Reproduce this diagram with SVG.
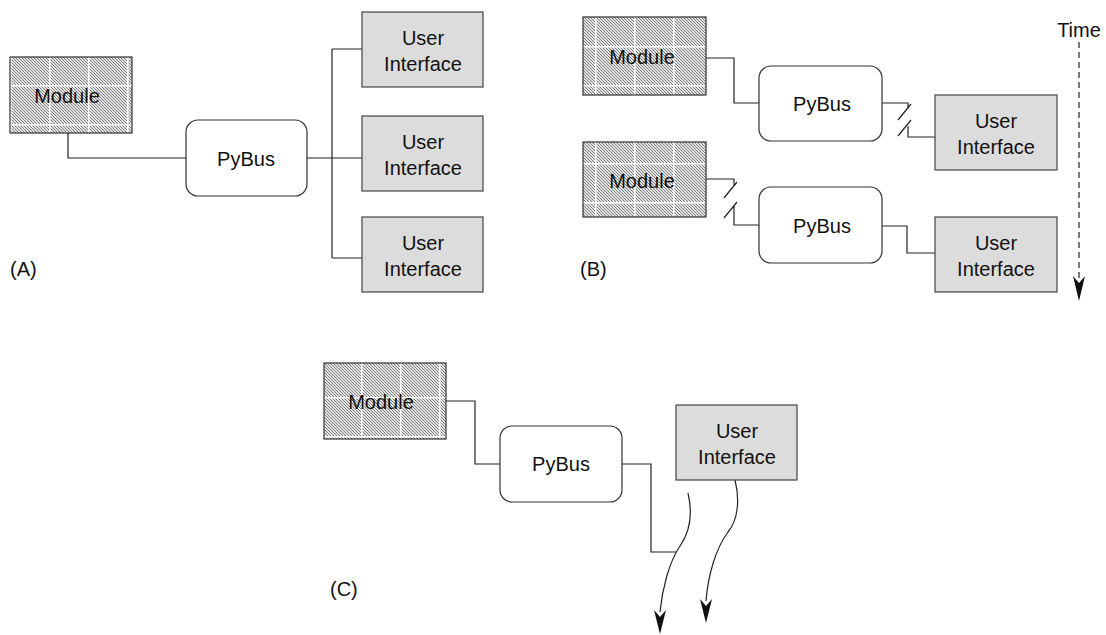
<svg xmlns="http://www.w3.org/2000/svg" width="1106" height="635" viewBox="0 0 1106 635">
<style>
text{font-family:"Liberation Sans",Arial,sans-serif;font-size:20px;fill:#111;text-anchor:middle}
.lbl{text-anchor:start}
.mod{fill:url(#grid);stroke:#333;stroke-width:1.2}
.bus{fill:#fff;stroke:#333;stroke-width:1.2}
.ui{fill:#dcdcdc;stroke:#444;stroke-width:1.2}
.c{fill:none;stroke:#222;stroke-width:1.2}
</style>
<defs>
<pattern id="hatch" patternUnits="userSpaceOnUse" width="3" height="3">
<rect width="3" height="3" fill="#e4e4e4"/>
<path d="M-1,-1 L4,4 M-1,2 L1,4 M2,-1 L4,1" stroke="#707070" stroke-width="0.9"/>
</pattern>
<pattern id="grid" patternUnits="userSpaceOnUse" width="39" height="39" x="10" y="7">
<rect width="39" height="39" fill="url(#hatch)"/>
<path d="M0.75,0 V39 M0,0.75 H39" stroke="#fff" stroke-width="1.5"/>
</pattern>
</defs>

<g id="connectors">
<!-- A -->
<path class="c" d="M68,133 V158 H186"/>
<path class="c" d="M307,158 H362 M332,49 V258 M332,49 H362 M332,258 H362"/>
<!-- B top -->
<path class="c" d="M706,58 H734 V103 H760"/>
<path class="c" d="M882,103 H908 V109 M898,120 L911,104 M898,136 L911,120 M908,126 V137 H936"/>
<!-- B bottom -->
<path class="c" d="M706,179 H734 V186 M724,198 L737,182 M724,218 L737,202 M734,206 V225 H760"/>
<path class="c" d="M882,226 H907 V253 H936"/>
<!-- Time -->
<path class="c" d="M1079,42 V278" stroke-dasharray="6,4"/>
<path d="M1073,276 L1079,283 L1085,276 L1079,301 Z" fill="#111"/>
<!-- C -->
<path class="c" d="M446,401 H475 V464 H500"/>
<path class="c" d="M622,464 H651 V552 H676"/>
<path class="c" d="M688,493 C693,515 690,532 680,546 C669,562 662,590 660,612"/>
<path d="M654,610 L660,617 L666,610 L660,634 Z" fill="#111"/>
<path class="c" d="M735,480 C740,500 738,520 728,532 C716,548 708,575 706,601"/>
<path d="M700,599 L706,606 L712,599 L706,623 Z" fill="#111"/>
</g>

<g id="moduleA"><rect class="mod" x="10" y="57" width="122" height="76"/><text x="67" y="103">Module</text></g>
<g id="pybusA"><rect class="bus" x="186" y="120" width="121" height="76" rx="12"/><text x="246" y="166">PyBus</text></g>
<g id="uiA1"><rect class="ui" x="362" y="12" width="121" height="75"/><text x="423" y="45">User</text><text x="423" y="71">Interface</text></g>
<g id="uiA2"><rect class="ui" x="362" y="116" width="121" height="75"/><text x="423" y="149">User</text><text x="423" y="175">Interface</text></g>
<g id="uiA3"><rect class="ui" x="362" y="217" width="121" height="75"/><text x="423" y="250">User</text><text x="423" y="276">Interface</text></g>
<text class="lbl" x="10" y="276">(A)</text>

<g id="moduleB1"><rect class="mod" x="583" y="17" width="123" height="78"/><text x="642" y="64">Module</text></g>
<g id="pybusB1"><rect class="bus" x="759" y="66" width="123" height="75" rx="12"/><text x="822" y="111">PyBus</text></g>
<g id="uiB1"><rect class="ui" x="935" y="95" width="122" height="75"/><text x="996" y="128">User</text><text x="996" y="154">Interface</text></g>
<g id="moduleB2"><rect class="mod" x="583" y="142" width="123" height="75"/><text x="642" y="188">Module</text></g>
<g id="pybusB2"><rect class="bus" x="759" y="187" width="123" height="76" rx="12"/><text x="822" y="233">PyBus</text></g>
<g id="uiB2"><rect class="ui" x="935" y="217" width="122" height="75"/><text x="996" y="250">User</text><text x="996" y="276">Interface</text></g>
<text class="lbl" x="580" y="276">(B)</text>
<text x="1079" y="37">Time</text>

<g id="moduleC"><rect class="mod" x="324" y="363" width="122" height="76"/><text x="381" y="409">Module</text></g>
<g id="pybusC"><rect class="bus" x="500" y="426" width="122" height="76" rx="12"/><text x="561" y="471">PyBus</text></g>
<g id="uiC"><rect class="ui" x="676" y="405" width="121" height="75"/><text x="737" y="438">User</text><text x="737" y="464">Interface</text></g>
<text class="lbl" x="330" y="596">(C)</text>
</svg>
